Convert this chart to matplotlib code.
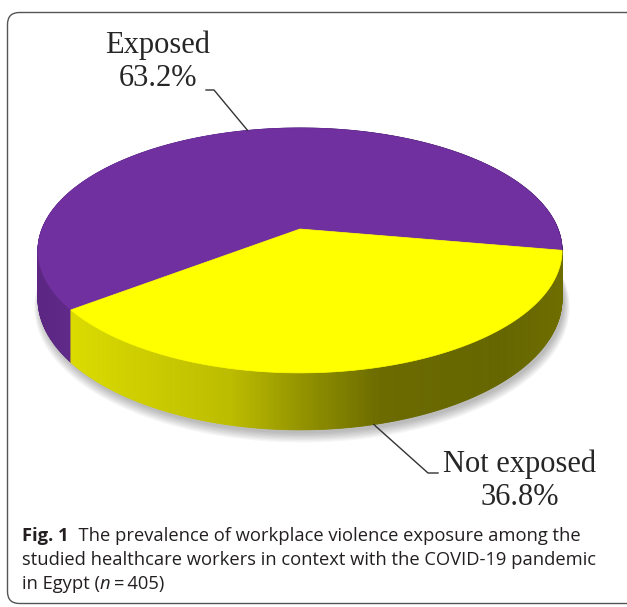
import numpy as np
import matplotlib.pyplot as plt
from matplotlib.patches import Polygon, FancyBboxPatch

# data
labels = ["Exposed", "Not exposed"]
values = [63.2, 36.8]
colors = ["#7030A0", "#FFFF00"]

caption = [
    [("Fig. 1", "bold"), ("  The prevalence of workplace violence exposure among the", "normal")],
    [("studied healthcare workers in context with the COVID-19 pandemic", "normal")],
    [("in Egypt (", "normal"), ("n", "italic"), ("\u2009=\u2009405)", "normal")],
]

# 3d pie geometry (pixels)
cx, cy = 300, 229
sx, sy = 258, 118.7
k = 0.175          # perspective
H = 47             # thickness
first_angle = 217.5


def proj(t_deg, drop=0.0, scale=1.0):
    t = np.radians(t_deg)
    u, v = np.cos(t) * scale, np.sin(t) * scale
    d = 1 + k * v
    return cx + sx * u / d, cy - sy * v / d + drop / d


def shade(x):
    return np.interp(x, [30, 72, 230, 300, 380, 500, 565], [0.80, 0.86, 0.74, 0.58, 0.42, 0.40, 0.43])


fig = plt.figure(figsize=(6.27, 6.07), dpi=100)
ax = fig.add_axes([0, 0, 1, 1])
ax.set_xlim(0, 627)
ax.set_ylim(607, 0)
ax.axis("off")

# frame
ax.add_patch(FancyBboxPatch((7.5, 12.5), 640, 591, boxstyle="round,pad=0,rounding_size=12",
                            fc="none", ec="#555555", lw=1.0))

# soft shadow
tt = np.linspace(0, 360, 361)
for i in range(8):
    pts = np.array([proj(a, H + 3 + i * 0.6, 1.0 + 0.003 * i) for a in tt])
    ax.add_patch(Polygon(pts + [2, 0], closed=True, fc="#000000", ec="none", alpha=0.035))

# slice angles (clockwise)
bounds = [first_angle]
for val in values:
    bounds.append(bounds[-1] - val / 100 * 360)

# side walls
for lab, col, a0, a1 in zip(labels, colors, bounds[:-1], bounds[1:]):
    base = np.array(plt.matplotlib.colors.to_rgb(col))
    ts = np.linspace(a0, a1, int(abs(a1 - a0) * 2) + 2)
    for p, q in zip(ts[:-1], ts[1:]):
        x0, y0 = proj(p)
        x1, y1 = proj(q)
        x2, y2 = proj(q, H)
        x3, y3 = proj(p, H)
        c = np.clip(base * shade((x0 + x1) / 2), 0, 1)
        ax.add_patch(Polygon([(x0, y0), (x1, y1), (x2, y2), (x3, y3)], closed=True,
                             fc=c, ec=c, lw=0.6))

# top faces
for lab, col, a0, a1 in zip(labels, colors, bounds[:-1], bounds[1:]):
    ts = np.linspace(a0, a1, 300)
    pts = [(cx, cy)] + [proj(a) for a in ts]
    ax.add_patch(Polygon(pts, closed=True, fc=col, ec=col, lw=0.5))

# labels with leader lines
txt_col = "#262626"
serif = "Liberation Serif"
mid0 = (bounds[0] + bounds[1]) / 2
mid1 = (bounds[1] + bounds[2]) / 2
ax0 = proj(mid0)
ax1 = proj(mid1, H)
ax.plot([ax0[0], 214, 206], [ax0[1], 90, 90], color="#333333", lw=1.0)
ax.plot([ax1[0], 428, 438], [ax1[1], 473, 473], color="#333333", lw=1.0)
ax.text(158, 62, f"{labels[0]}\n{values[0]:.1f}%", ha="center", va="center",
        fontsize=22, family=serif, color=txt_col, linespacing=1.2)
ax.text(520, 481, f"{labels[1]}\n{values[1]:.1f}%", ha="center", va="center",
        fontsize=22, family=serif, color=txt_col, linespacing=1.2)

# caption
renderer = fig.canvas.get_renderer()
cap_font = ["Open Sans", "DejaVu Sans"]
line_y = [541, 565, 589]
for runs, y in zip(caption, line_y):
    x = 22
    for s, style in runs:
        kw = dict(fontsize=13.2, family=cap_font, color="#231f20", va="baseline", ha="left")
        if style == "bold":
            kw["weight"] = "bold"
        if style == "italic":
            kw["style"] = "italic"
        t = ax.text(x, y, s, **kw)
        bb = t.get_window_extent(renderer)
        x += bb.width

fig.savefig("out.png", dpi=100)
